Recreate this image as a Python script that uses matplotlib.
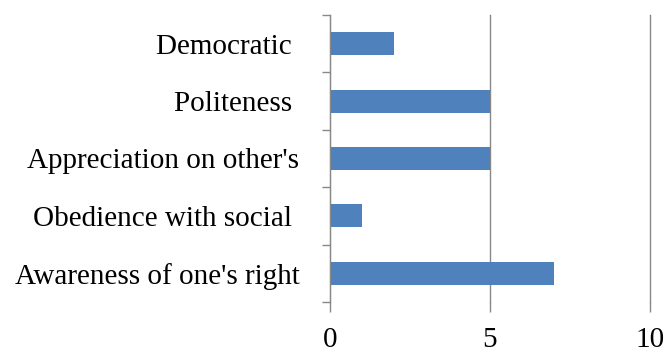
import numpy as np
import matplotlib.pyplot as plt

# données
categories = ["Awareness of one's right", "Obedience with social ", "Appreciation on other's",
              "Politeness ", "Democratic "]
values = [7, 1, 5, 5, 2]
xticks = [0, 5, 10]

plt.rcParams['font.family'] = ['Liberation Serif', 'DejaVu Serif']

fig = plt.figure(figsize=(6.69, 3.52), dpi=100)
ax = fig.add_axes([330 / 669, 1 - 302 / 352, 320 / 669, 287 / 352])

y = np.arange(len(categories))
ax.barh(y, values, height=0.4, color="#4F81BD", zorder=3)

ax.set_xlim(0, 10)
ax.set_ylim(-0.5, len(categories) - 0.5)
ax.set_xticks(xticks)
ax.set_xticklabels([str(t) for t in xticks], fontsize=21)
ax.set_yticks(y)
ax.set_yticklabels(categories, fontsize=21)
ax.set_yticks(np.arange(-0.5, len(categories)), minor=True)

ax.tick_params(axis="y", which="major", length=0, pad=22)
ax.tick_params(axis="y", which="minor", length=6, width=1, color="#888888")
ax.tick_params(axis="x", which="major", length=7, width=1, color="#888888", pad=11)

ax.grid(axis="x", color="#888888", linewidth=1, zorder=0)
for gl in ax.get_xgridlines():
    gl.set_clip_on(False)
for s in ["top", "right", "bottom"]:
    ax.spines[s].set_visible(False)
ax.spines["left"].set_color("#888888")
ax.spines["left"].set_zorder(4)

fig.savefig("out.png", dpi=100)
